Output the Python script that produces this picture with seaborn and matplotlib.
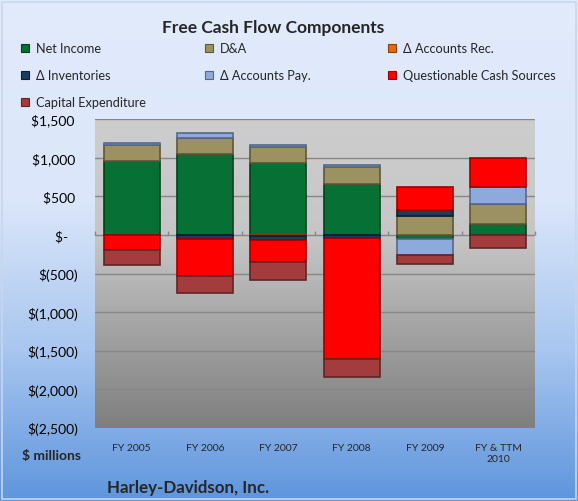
import numpy as np
import pandas as pd
import matplotlib
matplotlib.use("Agg")
import matplotlib.pyplot as plt
from matplotlib.colors import LinearSegmentedColormap
from matplotlib.patches import Rectangle
import seaborn as sns

# Chart data ($ millions)
years = ["FY 2005", "FY 2006", "FY 2007", "FY 2008", "FY 2009", "FY & TTM\n2010"]
series_names = ["Net Income", "D&A", "\u0394 Accounts Rec.", "\u0394 Inventories",
                "\u0394 Accounts Pay.", "Questionable Cash Sources", "Capital Expenditure"]
net_income = [960, 1043, 934, 655, -55, 146]
dep_amort = [205, 213, 204, 220, 246, 255]
d_accounts_rec = [0, 0, -20, 0, 0, 0]
d_inventories = [0, -50, -40, -40, 75, 0]
d_accounts_pay = [20, 65, 30, 35, -210, 220]
questionable = [-195, -480, -285, -1570, 300, 380]
capex = [-198, -220, -242, -232, -117, -170]
series_colors = ["#077034", "#9c9160", "#e46c0a", "#1f3a60", "#8eaadb", "#ff0000", "#a33c3c"]
edge_colors = ["#04401e", "#5e5836", "#8a4106", "#0f1d30", "#55688a", "#a00000", "#622424"]
ytick_vals = [1500, 1000, 500, 0, -500, -1000, -1500, -2000, -2500]

W, H = 578, 502


def fx(x):
    return x / W


def fy(y):
    return 1 - y / H


def money(v):
    if v == 0:
        return "$-   "
    if v < 0:
        return "$({:,})".format(-v)
    return "${:,} ".format(v)


sns.set_theme(style="white")
plt.rcParams["font.family"] = ["Lato", "DejaVu Sans"]

fig = plt.figure(figsize=(W / 100, H / 100), dpi=100)

# light-to-blue background gradient
bg = fig.add_axes([0, 0, 1, 1], zorder=-5)
bg_cmap = LinearSegmentedColormap.from_list(
    "bg", [(0, "#5e95dc"), (0.3, "#a8c6ef"), (0.6, "#dbe6fa"), (1, "#e2ebfc")])
bg.imshow(np.linspace(0, 1, 256).reshape(-1, 1), cmap=bg_cmap, origin="lower",
          aspect="auto", extent=[0, 1, 0, 1])
bg.set_axis_off()
bg.add_patch(Rectangle((0.004, 0.004), 0.992, 0.99, fill=False, edgecolor="#c9d6ea", lw=1.2))

ax = fig.add_axes([fx(95), fy(429), 440 / W, 309 / H])
ax.set_facecolor("none")

# gray plot-area gradient
pa_cmap = LinearSegmentedColormap.from_list(
    "pa", [(0, "#7f7f7f"), (0.62, "#c6c6c6"), (1, "#cdcdcd")])
ax.imshow(np.linspace(0, 1, 256).reshape(-1, 1), cmap=pa_cmap, origin="lower",
          aspect="auto", extent=[0, 1, 0, 1], transform=ax.transAxes, zorder=0)

# stacked bars, positives and negatives stacked apart
df = pd.DataFrame({"year": years})
pos_base = np.zeros(len(years))
neg_base = np.zeros(len(years))
for name, vals, col, ecol in zip(series_names,
                                 [net_income, dep_amort, d_accounts_rec, d_inventories,
                                  d_accounts_pay, questionable, capex],
                                 series_colors, edge_colors):
    vals = np.array(vals, dtype=float)
    bottom = np.where(vals >= 0, pos_base, neg_base)
    df["v"] = vals
    n_before = len(ax.patches)
    sns.barplot(data=df, x="year", y="v", order=years, color=col, saturation=1,
                width=0.76, bottom=bottom, edgecolor=ecol, linewidth=1.2,
                errorbar=None, ax=ax, zorder=3)
    for p in ax.patches[n_before:]:
        if p.get_height() == 0:
            p.set_visible(False)
    pos_base = pos_base + np.clip(vals, 0, None)
    neg_base = neg_base + np.clip(vals, None, 0)

ax.set_xlim(-0.5, len(years) - 0.5)
ax.set_ylim(-2500, 1500)
ax.set_yticks(ytick_vals)
ax.set_yticklabels([money(v) for v in ytick_vals], fontsize=10)
ax.yaxis.grid(True, color="#878787", lw=1)
ax.set_axisbelow(False)
for gl in ax.get_ygridlines():
    gl.set_zorder(1)
ax.tick_params(axis="y", length=0, pad=12, colors="#000000")
ax.tick_params(axis="x", length=0, pad=11, labelsize=7.5)
ax.set_xlabel("")
ax.set_ylabel("")
for s in ax.spines.values():
    s.set_visible(False)

# small tick marks along the zero line between categories
zero_axis = ax.secondary_xaxis(2500 / 4000)
zero_axis.set_xticks(np.arange(-0.5, len(years), 1))
zero_axis.set_xticklabels([])
zero_axis.tick_params(length=3, direction="out", color="#878787", width=1)
zero_axis.spines["bottom"].set_visible(False)
zero_axis.spines["top"].set_visible(False)

# title and legend
fig.text(fx(273), fy(28), "Free Cash Flow Components", ha="center", va="center",
         fontsize=12.5, fontweight="bold")
for i, (name, col, ecol) in enumerate(zip(series_names, series_colors, edge_colors)):
    row, c = divmod(i, 3)
    x0 = 21 + c * 183.7
    y0 = 49 + row * 27
    fig.add_artist(Rectangle((fx(x0), fy(y0 + 4)), 8 / W, 8 / H, transform=fig.transFigure,
                             facecolor=col, edgecolor=ecol, lw=0.8))
    fig.text(fx(x0 + 15), fy(y0), name, ha="left", va="center", fontsize=9.2)

fig.text(fx(51), fy(456), "$ millions", ha="center", va="center",
         fontsize=10, fontweight="bold")
fig.text(fx(107), fy(488), "Harley-Davidson, Inc.", ha="left", va="center",
         fontsize=12.2, fontweight="bold")

fig.savefig("out.png", dpi=100)
